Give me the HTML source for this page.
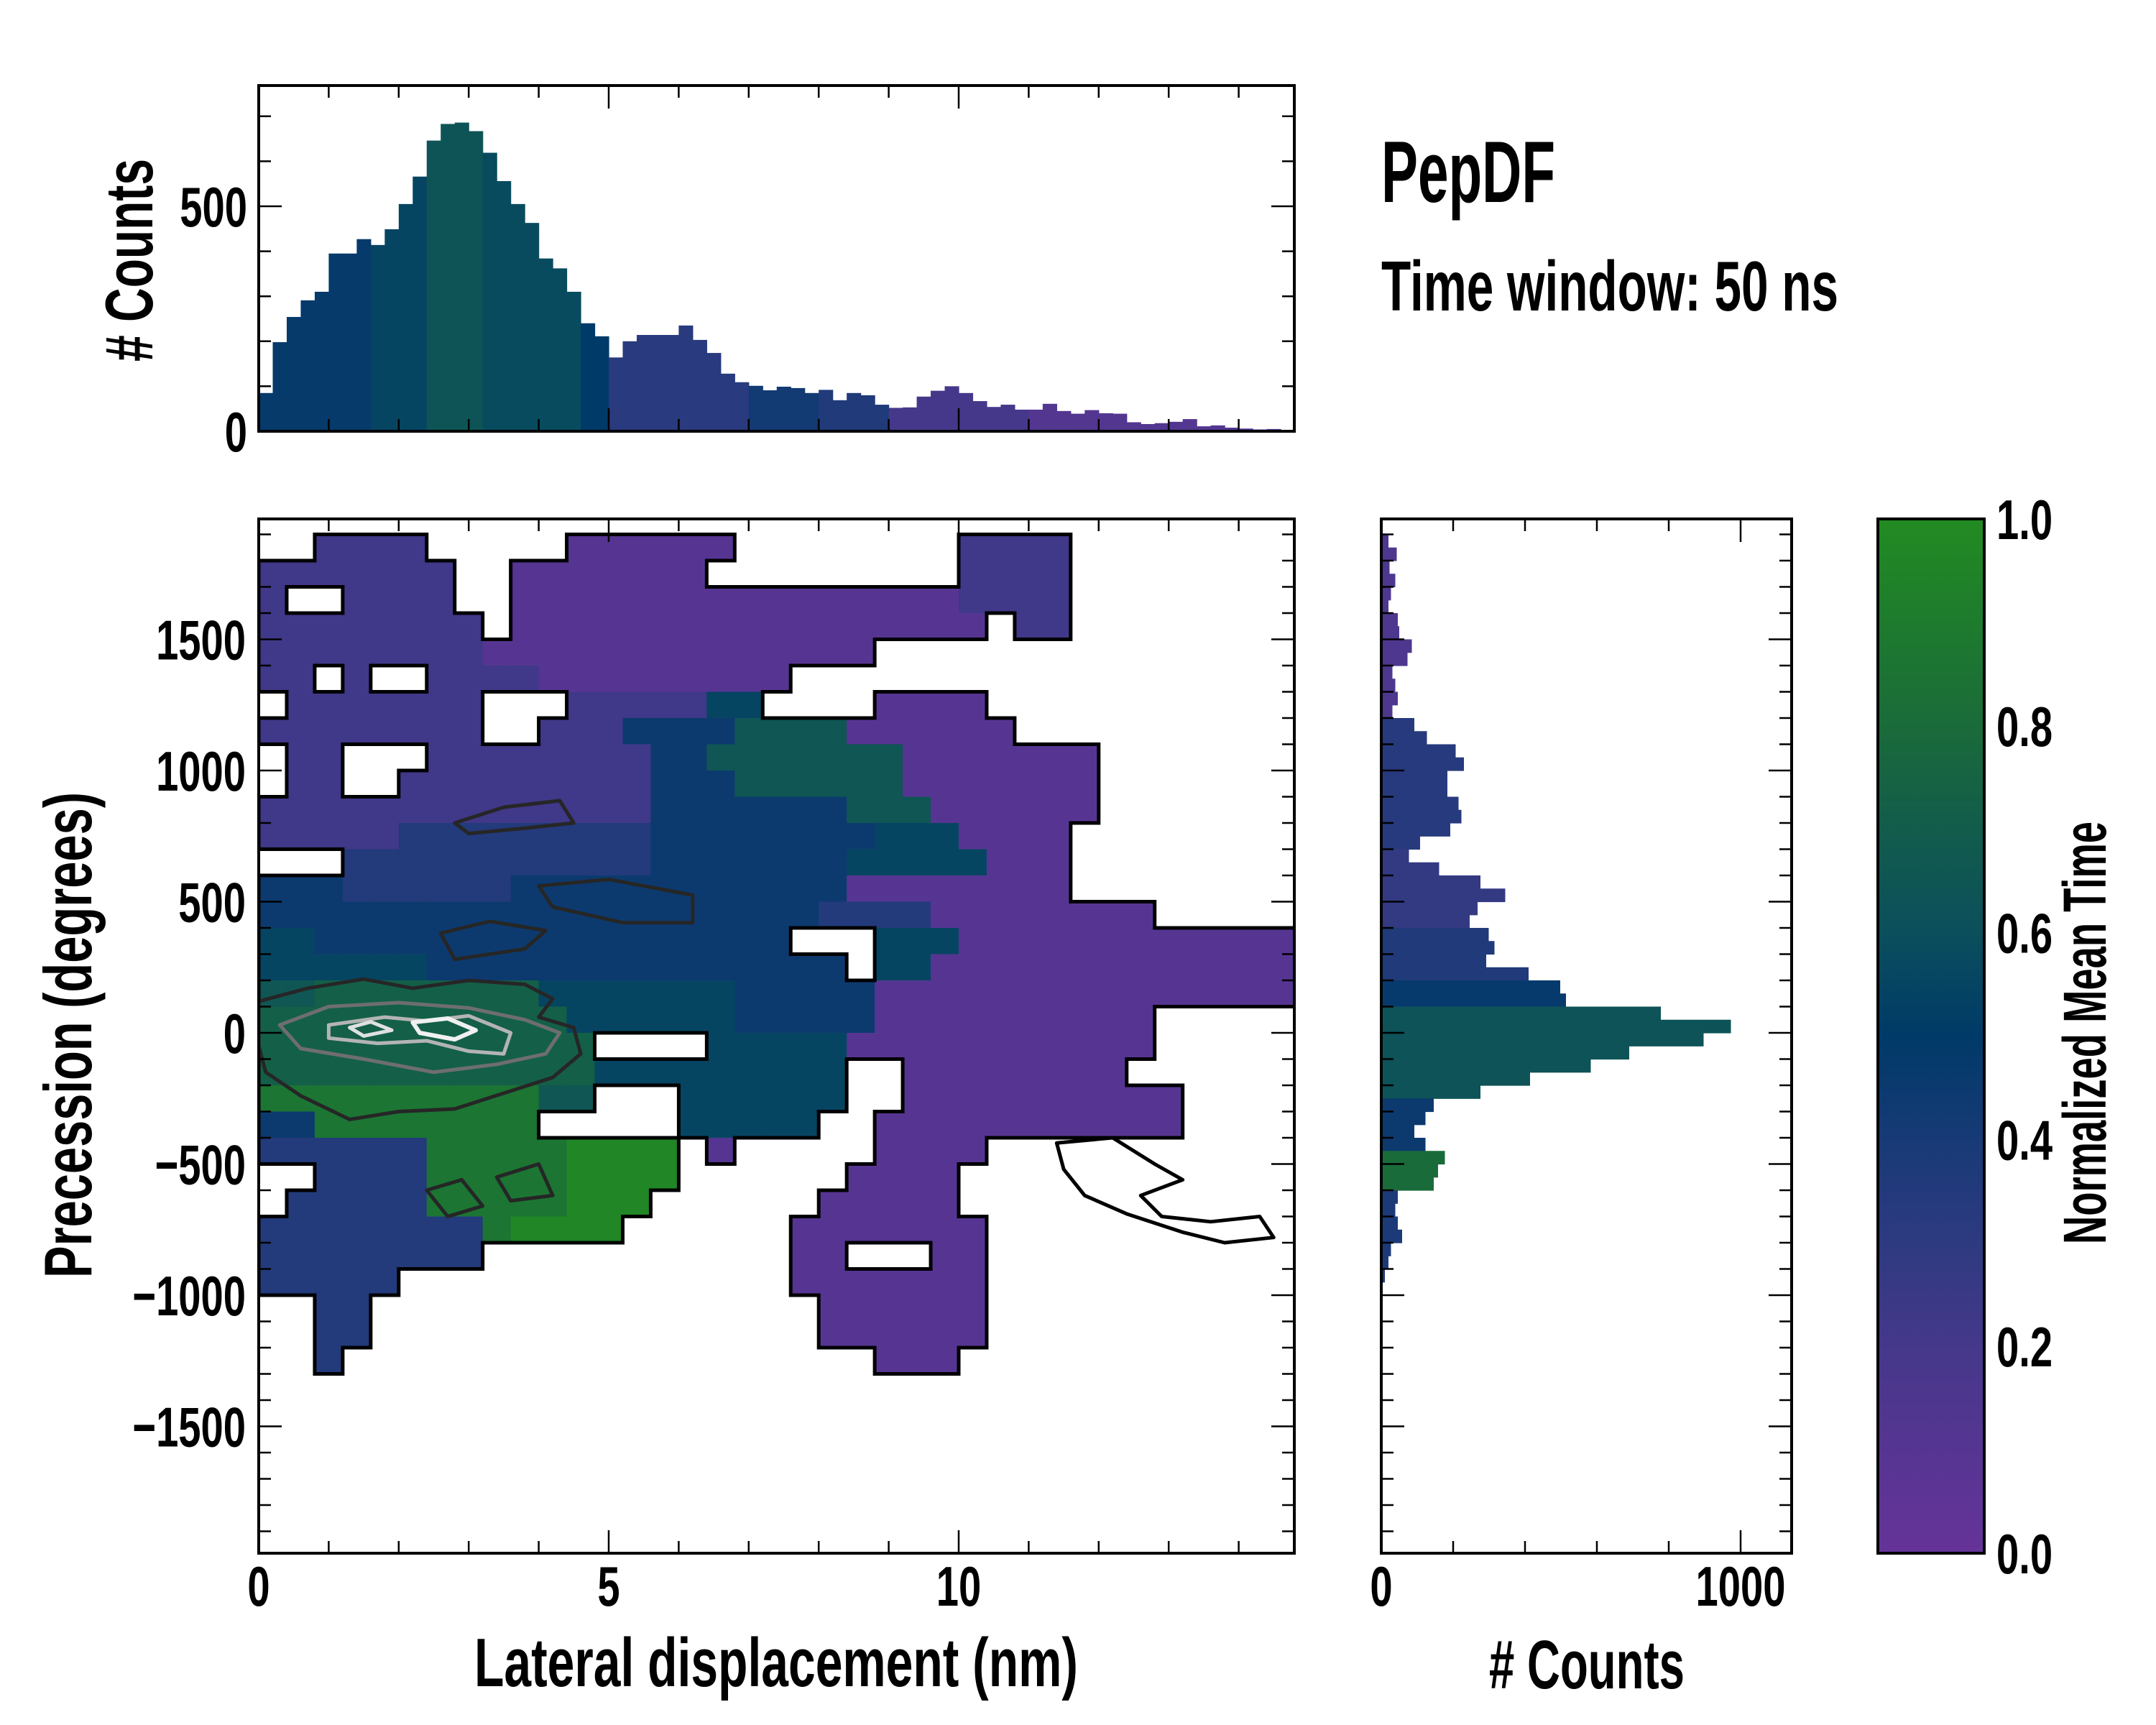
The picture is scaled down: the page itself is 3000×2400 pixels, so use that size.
<!DOCTYPE html>
<html><head><meta charset="utf-8">
<style>
html,body{margin:0;padding:0;background:#fff;}
svg{display:block;}
text{font-family:"Liberation Sans",sans-serif;font-weight:bold;fill:#000;}
</style></head>
<body>
<svg id="fig" xmlns="http://www.w3.org/2000/svg" width="3000" height="2400" viewBox="0 0 3000 2400">
<rect x="0" y="0" width="3000" height="2400" fill="#fff"/>
<defs>
<clipPath id="mainClip"><rect x="360" y="722" width="1441" height="1439"/></clipPath>
<linearGradient id="cbGrad" x1="0" y1="1" x2="0" y2="0">
<stop offset="0" stop-color="#663399"/><stop offset="0.1" stop-color="#563592"/><stop offset="0.2" stop-color="#45388a"/>
<stop offset="0.3" stop-color="#2e3a80"/><stop offset="0.4" stop-color="#173a76"/><stop offset="0.5" stop-color="#003a68"/>
<stop offset="0.6" stop-color="#0b4f5c"/><stop offset="0.7" stop-color="#125c4c"/><stop offset="0.8" stop-color="#1a6b3a"/>
<stop offset="0.9" stop-color="#1e7b2e"/><stop offset="1" stop-color="#228b22"/>
</linearGradient>
</defs>
<g id="topHist"></g>
<g id="heat" clip-path="url(#mainClip)"></g>
<g id="rightHist"></g>
<g id="axes"></g>
<rect x="2613" y="722" width="148" height="1439" fill="url(#cbGrad)" stroke="#000" stroke-width="4"/>
<text x="1922" y="281" font-size="122" textLength="242" lengthAdjust="spacingAndGlyphs">PepDF</text>
<text x="1922" y="432" font-size="98" textLength="636" lengthAdjust="spacingAndGlyphs">Time window: 50 ns</text>
<text x="1080" y="2346" font-size="96" text-anchor="middle" textLength="840" lengthAdjust="spacingAndGlyphs">Lateral displacement (nm)</text>
<text x="2208" y="2349" font-size="96" text-anchor="middle" textLength="272" lengthAdjust="spacingAndGlyphs"># Counts</text>
<text transform="translate(127,1440) rotate(-90)" font-size="94" text-anchor="middle" textLength="676" lengthAdjust="spacingAndGlyphs">Precession (degrees)</text>
<text transform="translate(212,362) rotate(-90)" font-size="94" text-anchor="middle" textLength="282" lengthAdjust="spacingAndGlyphs"># Counts</text>
<text transform="translate(2930,1437) rotate(-90)" font-size="84" text-anchor="middle" textLength="588" lengthAdjust="spacingAndGlyphs">Normalized Mean Time</text>
</svg>
<script>
// ---------- data ----------
const topBinStart = 0, topBinWidth = 0.2;
const topCounts = [85,198,254,291,310,395,395,427,414,449,505,566,646,683,686,667,619,556,505,463,384,362,310,240,211,164,200,214,214,214,235,203,174,128,109,101,91,99,96,85,92,69,85,80,59,52,53,77,90,100,85,67,54,59,48,48,61,45,39,47,40,39,20,16,18,21,27,11,13,8,6,4,5];
const topTimes = [0.48,0.48,0.48,0.48,0.48,0.48,0.48,0.48,0.55,0.55,0.55,0.55,0.64,0.64,0.64,0.64,0.58,0.58,0.58,0.58,0.58,0.58,0.58,0.5,0.5,0.32,0.32,0.32,0.32,0.32,0.32,0.32,0.32,0.32,0.32,0.42,0.42,0.42,0.42,0.42,0.36,0.36,0.36,0.36,0.36,0.2,0.2,0.2,0.2,0.2,0.2,0.2,0.2,0.2,0.2,0.12,0.12,0.12,0.12,0.12,0.12,0.12,0.12,0.12,0.12,0.12,0.12,0.12,0.12,0.12,0.12,0.12,0.12];
const rightBinTop = 1900, rightBinWidth = 50;
const rightCounts = [20,43,23,39,27,20,46,50,85,73,31,39,46,31,92,127,207,230,184,184,215,223,192,108,77,161,276,345,268,246,299,315,292,410,498,514,778,973,897,690,583,414,276,146,123,92,123,177,158,146,46,39,46,58,27,20,10];
const rightTimes = [0.15,0.15,0.15,0.15,0.15,0.15,0.15,0.15,0.15,0.15,0.15,0.15,0.15,0.15,0.33,0.33,0.33,0.33,0.33,0.33,0.33,0.33,0.33,0.33,0.28,0.28,0.28,0.28,0.28,0.28,0.36,0.36,0.36,0.36,0.47,0.47,0.63,0.63,0.63,0.63,0.63,0.63,0.63,0.45,0.45,0.45,0.45,0.8,0.8,0.8,0.38,0.38,0.38,0.38,0.38,0.38,0.38];
const heatCellW = 0.4, heatCellH = 100, heatTop = 1900;
const heatLevels = {'1':0.1,'2':0.22,'3':0.35,'4':0.45,'5':0.55,'6':0.65,'7':0.72,'8':0.86,'9':0.97};
const heatRows = [
"..2222.....111111........2222........",
"2222222..1111111.........2222........",
"2..2222..11111111111111112222........",
"22222222.11111111111111111.22........",
"2222222211111111111111...............",
"22.2..2222111111111..................",
".2222222...2222255....1111...........",
"22222222..22244446666111111..........",
".22...222222224466666661111111.......",
".22..2222222224446666661111111.......",
"222222222222224444444666111111.......",
"22222333333333444444445551111........",
"...33333333333444444455555111........",
"44433333344444444444411111111........",
"44444444444444444444333311111111.....",
"5544444444444444444...555111111111111",
"555555444444444444444.551111111111111",
"6677777777555555544444111111111111111",
"77777777777555555444441111111111.....",
"777777777777....5555511111111111.....",
"777777777777555555555..11111111......",
"888888888866...555555..1111111111....",
"4488888888.....55555..11111111111....",
"333333888889999.1.....1111...........",
"..3333888889999......1111............",
".3333388888999......11111............",
"3333333389999......1111111...........",
"33333333...........11...11...........",
"33333..............1111111...........",
"..33................111111...........",
"..33................111111...........",
"..3...................111............"
];
const contourDark = [[0,120],[0.7,170],[1.5,205],[2.2,170],[3,200],[3.8,185],[4.2,130],[4.0,60],[4.5,20],[4.6,-80],[4.2,-170],[3.5,-230],[2.8,-290],[2,-300],[1.3,-330],[0.6,-240],[0.1,-150],[0,-50]];
const contourGray = [[0.3,30],[1,100],[2,115],[3,95],[3.8,50],[4.3,0],[4.1,-80],[3.4,-120],[2.5,-150],[1.5,-100],[0.6,-60]];
const contourLight = [[1,30],[1.8,60],[2.4,45],[3,65],[3.6,0],[3.5,-80],[3,-70],[2.4,-30],[1.7,-40],[1.0,-20]];
const contourWhiteA = [[2.2,40],[2.7,55],[3.1,10],[2.8,-25],[2.3,0]];
const contourWhiteB = [[1.3,20],[1.6,42],[1.9,10],[1.5,-12]];
const blobA = [[2.8,800],[3.5,860],[4.3,885],[4.5,800],[3.8,780],[3,760]];
const blobB = [[4.0,560],[5,585],[6.2,525],[6.2,420],[5.2,420],[4.2,480]];
const blobC = [[2.6,380],[3.3,425],[4.1,390],[3.8,320],[2.8,280]];
const blobD = [[2.4,-600],[2.9,-560],[3.2,-660],[2.7,-700]];
const blobE = [[3.4,-550],[4.0,-500],[4.2,-620],[3.6,-640]];
const emptyOutline = [[11.4,-420],[12.2,-400],[12.8,-500],[13.2,-560],[12.6,-620],[12.9,-700],[13.6,-720],[14.3,-700],[14.5,-780],[13.8,-800],[13.2,-760],[12.4,-690],[11.8,-620],[11.5,-520]];

// ---------- scales ----------
const NS='http://www.w3.org/2000/svg';
const xMain = v => 360 + v*97.4;
const yMain = v => 1437 - v*0.365;
const yTop = v => 600 - v*0.626;
const xRight = v => 1922 + v*0.5;
const yCbar = v => 2161 - v*1439;
const stops=[[0,[102,51,153]],[0.1,[86,53,146]],[0.2,[69,56,138]],[0.3,[46,58,128]],[0.4,[23,58,118]],[0.5,[0,58,104]],[0.6,[11,79,92]],[0.7,[18,92,76]],[0.8,[26,107,58]],[0.9,[30,123,46]],[1,[34,139,34]]];
function cmap(t){t=Math.max(0,Math.min(1,t));for(let i=0;i<stops.length-1;i++){const a=stops[i],b=stops[i+1];if(t<=b[0]){const f=(t-a[0])/(b[0]-a[0]);const c=a[1].map((v,k)=>Math.round(v+(b[1][k]-v)*f));return 'rgb('+c.join(',')+')';}}return 'rgb(34,139,34)';}
function mk(tag,attrs,parent){const e=document.createElementNS(NS,tag);for(const k in attrs)e.setAttribute(k,attrs[k]);parent.appendChild(e);return e;}

// ---------- top histogram ----------
const gTop=document.getElementById('topHist');
topCounts.forEach((c,i)=>{
  const x0=xMain(topBinStart+i*topBinWidth), x1=xMain(topBinStart+(i+1)*topBinWidth);
  const r=mk('rect',{x:x0,y:yTop(c),width:x1-x0+0.6,height:yTop(0)-yTop(c),fill:cmap(topTimes[i])},gTop);
  
  
});

// ---------- right histogram ----------
const gR=document.getElementById('rightHist');
rightCounts.forEach((c,i)=>{
  const yA=yMain(rightBinTop-i*rightBinWidth), yB=yMain(rightBinTop-(i+1)*rightBinWidth);
  const r=mk('rect',{x:xRight(0),y:yA,width:xRight(c)-xRight(0),height:yB-yA+0.6,fill:cmap(rightTimes[i])},gR);
  
  
});

// ---------- heatmap ----------
const gH=document.getElementById('heat');
const nCols=37;
function filled(r,c){if(r<0||r>=heatRows.length||c<0||c>=nCols)return false;const ch=heatRows[r][c];return !!heatLevels[ch];}
let edges='';
for(let r=0;r<heatRows.length;r++){
  for(let c=0;c<nCols;c++){
    const ch=heatRows[r][c]||'.';
    if(!heatLevels[ch])continue;
    const x0=xMain(c*heatCellW), x1=xMain((c+1)*heatCellW);
    const y0=yMain(heatTop-r*heatCellH), y1=yMain(heatTop-(r+1)*heatCellH);
    const cell=mk('rect',{x:x0,y:y0,width:x1-x0+0.6,height:y1-y0+0.6,fill:cmap(heatLevels[ch])},gH);
    
    
    if(!filled(r-1,c))edges+=`M${x0},${y0}H${x1}`;
    if(!filled(r+1,c))edges+=`M${x0},${y1}H${x1}`;
    if(!filled(r,c-1))edges+=`M${x0},${y0}V${y1}`;
    if(!filled(r,c+1))edges+=`M${x1},${y0}V${y1}`;
  }
}
const outline=mk('path',{d:edges,fill:'none',stroke:'#000','stroke-width':5,'stroke-linecap':'square'},gH);


function poly(pts,color,w,name){
  const p=mk('polygon',{points:pts.map(p=>xMain(p[0])+','+yMain(p[1])).join(' '),fill:'none',stroke:color,'stroke-width':w,'stroke-linejoin':'round'},gH);
  
  
}
poly(emptyOutline,'#000',5,'empty-region-contour');
poly(contourDark,'#262626',5,'contour-level-1');
poly(blobA,'#262626',5,'contour-blob');
poly(blobB,'#262626',5,'contour-blob');
poly(blobC,'#262626',5,'contour-blob');
poly(blobD,'#262626',5,'contour-blob');
poly(blobE,'#262626',5,'contour-blob');
poly(contourGray,'#6e6e6e',5,'contour-level-2');
poly(contourLight,'#b4b4b4',5,'contour-level-3');
poly(contourWhiteA,'#f0f0f0',6,'contour-level-4');
poly(contourWhiteB,'#e0e0e0',5,'contour-level-4');

// ---------- axes ----------
const gA=document.getElementById('axes');
function frame(x,y,w,h,name){const r=mk('rect',{x:x,y:y,width:w,height:h,fill:'none',stroke:'#000','stroke-width':4},gA);}
function line(x1,y1,x2,y2,w){mk('line',{x1:x1,y1:y1,x2:x2,y2:y2,stroke:'#000','stroke-width':w||2.5},gA);}
function label(x,y,s,anchor,name,size){
  const t=mk('text',{transform:`translate(${x},${y}) scale(0.72,1)`,'font-size':size||78,'text-anchor':anchor},gA);
  t.textContent=s;
  
  
}
function xTicks(scale,top,bot,min,max,step,majorEvery){
  for(let v=min;v<=max+1e-9;v+=step){const x=scale(v);const major=Math.abs(v/majorEvery-Math.round(v/majorEvery))<1e-6;const L=major?32:17;line(x,top,x,top+L);line(x,bot,x,bot-L);}
}
function yTicks(scale,left,right,min,max,step,majorEvery){
  for(let v=min;v<=max+1e-9;v+=step){const y=scale(v);const major=Math.abs(v/majorEvery-Math.round(v/majorEvery))<1e-6;const L=major?32:17;line(left,y,left+L,y);line(right,y,right-L,y);}
}
// top hist
xTicks(xMain,119,600,0,14,1,5);
yTicks(yTop,360,1801,0,700,100,500);
frame(360,119,1441,481,'top-hist-frame');
label(344,600+28,'0','end','top-hist-y-tick');
label(344,yTop(500)+28,'500','end','top-hist-y-tick');
// main
xTicks(xMain,722,2161,0,14,1,5);
yTicks(yMain,360,1801,-1900,1900,100,500);
frame(360,722,1441,1439,'main-frame');
[0,5,10].forEach(v=>label(xMain(v),2234,String(v),'middle','x-tick-label'));
[1500,1000,500,0,-500,-1000,-1500].forEach(v=>label(342,yMain(v)+28,(v<0?'\u2212':'')+Math.abs(v),'end','y-tick-label'));
// right hist
xTicks(xRight,722,2161,0,1100,200,1000);
yTicks(yMain,1922,2493,-1900,1900,100,500);
frame(1922,722,571,1439,'right-hist-frame');
label(xRight(0),2234,'0','middle','right-hist-x-tick');
label(xRight(1000),2234,'1000','middle','right-hist-x-tick');
// colorbar ticks
for(let i=0;i<=20;i++){const v=i*0.05;const y=yCbar(v);const major=i%4===0;line(2761,y,2761-(major?32:17),y,2);}
[0,0.2,0.4,0.6,0.8,1.0].forEach(v=>label(2778,yCbar(v)+28,v.toFixed(1),'start','colorbar-tick-label'));
</script>
</body></html>
